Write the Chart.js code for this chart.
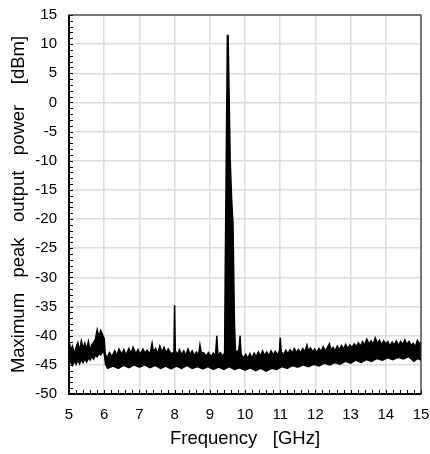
<!DOCTYPE html>
<html>
<head>
<meta charset="utf-8">
<script src="https://cdn.jsdelivr.net/npm/chart.js@4/dist/chart.umd.min.js"></script>
<style>
html,body{margin:0;padding:0;background:#fff}
#wrap{width:430px;height:454px}
</style>
</head>
<body>
<div id="wrap"><canvas id="myChart" width="430" height="454"></canvas></div>
<script>
var upperFreq = [5.00,5.05,5.10,5.15,5.20,5.25,5.30,5.35,5.40,5.45,5.50,5.55,5.60,5.65,5.70,5.75,5.80,5.85,5.90,5.95,6.00,
  6.03,6.08,6.15,6.22,6.30,6.36,6.42,6.50,6.56,6.62,6.70,6.76,6.82,6.90,6.96,7.02,7.10,7.16,7.22,7.30,7.36,7.40,7.46,7.52,
  7.58,7.64,7.70,7.76,7.82,7.90,7.98,8.00,8.02,8.08,8.14,8.20,8.26,8.32,8.38,8.44,8.50,8.56,8.62,8.68,8.72,8.76,8.82,8.90,
  8.96,9.04,9.10,9.16,9.20,9.23,9.30,9.36,9.42,9.44,9.50,9.52,9.58,9.62,9.66,9.70,9.73,9.78,9.83,9.86,9.89,9.95,
  10.02,10.08,10.14,10.20,10.26,10.32,10.38,10.44,10.50,10.56,10.62,10.68,10.74,10.80,10.86,10.92,10.98,11.00,11.03,
  11.10,11.16,11.22,11.28,11.34,11.40,11.46,11.52,11.58,11.64,11.70,11.76,11.80,11.86,11.92,11.98,12.04,12.10,12.16,
  12.22,12.28,12.34,12.40,12.44,12.50,12.56,12.62,12.68,12.74,12.80,12.86,12.92,12.98,13.04,13.10,13.16,13.22,13.28,
  13.34,13.40,13.46,13.52,13.58,13.64,13.70,13.76,13.82,13.88,13.94,14.00,14.06,14.12,14.18,14.24,14.30,14.36,14.42,
  14.48,14.54,14.60,14.66,14.72,14.78,14.84,14.90,14.96,15.00]
var upperDbm = [-40.7,-42.5,-41.8,-43.2,-42.0,-41.2,-42.6,-40.9,-42.2,-41.3,-42.4,-41.0,-42.6,-41.5,-41.2,-40.6,-39.0,-40.2,-39.1,-39.8,-40.5,
  -43.2,-43.8,-42.9,-43.6,-42.6,-43.4,-42.3,-43.2,-42.4,-43.3,-42.2,-43.0,-42.0,-43.1,-42.4,-43.2,-42.3,-43.0,-42.5,-43.2,-41.3,-42.8,-42.2,-43.1,
  -41.8,-42.9,-42.0,-43.0,-42.3,-43.1,-42.8,-34.8,-42.6,-43.2,-42.4,-43.3,-42.6,-43.4,-42.3,-43.2,-42.6,-43.4,-42.8,-43.3,-41.6,-43.0,-42.9,-43.5,
  -42.9,-43.6,-43.0,-43.5,-40.0,-43.3,-42.9,-43.5,-43.0,-28,11.5,11.5,-10,-16.5,-21,-38,-42.5,-43.0,-42.2,-40.0,-43.2,-43.8,
  -43.2,-43.9,-43.1,-43.8,-43.0,-43.6,-42.8,-43.5,-42.6,-43.4,-42.8,-43.5,-42.6,-43.3,-42.7,-43.3,-42.6,-40.3,-42.8,
  -43.2,-42.5,-43.1,-42.4,-43.0,-42.2,-42.9,-42.4,-43.0,-42.2,-42.8,-41.6,-42.6,-42.1,-42.8,-42.3,-42.9,-42.2,-42.7,
  -41.9,-42.6,-42.0,-41.4,-42.5,-42.0,-42.6,-41.8,-42.4,-41.7,-42.3,-41.5,-42.2,-41.6,-42.1,-41.4,-41.9,-41.2,-41.8,
  -41.0,-41.6,-40.6,-41.4,-40.9,-41.5,-40.4,-41.3,-40.8,-41.6,-40.9,-41.4,-41.0,-41.8,-41.1,-41.6,-40.9,-41.7,-41.0,
  -41.5,-40.7,-41.5,-41.0,-41.7,-41.3,-41.9,-40.8,-41.4,-41.0]
var lowerFreq = [5.00,5.05,5.10,5.15,5.20,5.25,5.30,5.35,5.40,5.45,5.50,5.55,5.60,5.65,5.70,5.75,5.80,5.85,5.90,5.95,6.00,
  6.04,6.10,6.25,6.40,6.55,6.70,6.85,7.00,7.15,7.30,7.45,7.60,7.75,7.90,8.05,8.20,8.35,8.50,8.65,8.80,8.95,9.10,9.25,
  9.40,9.55,9.70,9.85,10.00,10.15,10.30,10.45,10.60,10.75,10.90,11.05,11.20,11.35,11.50,11.65,11.80,11.95,12.10,12.25,
  12.40,12.55,12.70,12.85,13.00,13.15,13.30,13.45,13.60,13.75,13.90,14.05,14.20,14.35,14.50,14.65,14.80,14.90,15.00]
var lowerDbm = [-43.5,-44.6,-45.1,-44.3,-44.9,-44.2,-44.8,-44.1,-44.6,-43.9,-44.5,-43.8,-44.2,-43.6,-44.0,-43.4,-43.6,-43.0,-43.3,-42.8,-43.0,
  -45.0,-45.6,-45.2,-45.6,-45.1,-45.5,-45.0,-45.4,-45.0,-45.5,-45.1,-45.6,-45.2,-45.7,-45.2,-45.6,-45.1,-45.6,-45.3,-45.7,-45.3,-45.8,-45.4,
  -45.8,-45.3,-45.8,-45.5,-45.9,-45.5,-46.0,-45.6,-46.1,-45.6,-45.8,-45.3,-45.6,-45.1,-45.4,-45.0,-45.3,-44.9,-45.2,-44.7,
  -45.0,-44.6,-44.9,-44.4,-44.7,-44.2,-44.6,-44.1,-44.4,-43.9,-44.2,-43.8,-44.1,-43.7,-44.0,-43.6,-44.4,-43.9,-44.2]

var xTicks = [5,6,7,8,9,10,11,12,13,14,15]
var yTicks = [-50,-45,-40,-35,-30,-25,-20,-15,-10,-5,0,5,10,15]

function pts(xs, ys){
  var out = []
  for(var i=0;i<xs.length;i++){ out.push({x:xs[i], y:ys[i]}) }
  return out
}

// inward minor ticks + frame
var frame = {
  id:'frame',
  afterDatasetsDraw: function(chart){
    var c = chart.ctx, a = chart.chartArea
    var xs = chart.scales.x, ys = chart.scales.y
    c.save()
    c.strokeStyle = '#000'
    c.lineWidth = 1
    c.beginPath()
    for(var v=-50; v<=15; v++){
      var py = Math.round(ys.getPixelForValue(v)) + 0.5
      c.moveTo(a.left, py); c.lineTo(a.left+4, py)
    }
    for(var k=0; k<=50; k++){
      var px = Math.round(xs.getPixelForValue(5 + k*0.2)) + 0.5
      c.moveTo(px, a.bottom); c.lineTo(px, a.bottom-4)
    }
    c.stroke()
    c.lineWidth = 1.2
    c.strokeStyle = '#333'
    c.strokeRect(a.left, a.top, a.right-a.left, a.bottom-a.top)
    c.lineWidth = 2
    c.strokeStyle = '#000'
    c.beginPath()
    c.moveTo(a.left, a.top); c.lineTo(a.left, a.bottom); c.lineTo(a.right, a.bottom)
    c.stroke()
    c.restore()
  }
}

Chart.defaults.font.family = '"Liberation Sans", Arial, sans-serif'
Chart.defaults.color = '#000'

new Chart("myChart", {
  type: "line",
  data: {
    datasets: [{
      data: pts(lowerFreq, lowerDbm),
      borderColor: '#000',
      borderWidth: 1.5,
      fill: false
    },{
      data: pts(upperFreq, upperDbm),
      borderColor: '#000',
      borderWidth: 1.5,
      backgroundColor: '#000',
      fill: '-1'
    }]
  },
  options: {
    responsive: false,
    animation: false,
    layout: { autoPadding: false, padding: { left: 0, right: 9, top: 15, bottom: 0 } },
    elements: { point: { radius: 0 }, line: { tension: 0 } },
    plugins: { legend: { display: false }, tooltip: { enabled: false } },
    scales: {
      x: {
        type: 'linear', min: 5, max: 15,
        afterBuildTicks: function(s){ s.ticks = xTicks.map(function(v){ return {value:v} }) },
        afterFit: function(s){ s.height = 60; s.paddingLeft = 0; s.paddingRight = 0 },
        grid: { color: '#dcdcdc', lineWidth: 1.5, drawTicks: false },
        border: { display: false },
        ticks: { padding: 12, font: { size: 15 } },
        title: { display: true, text: 'Frequency   [GHz]', font: { size: 18.5 }, padding: { top: 2 } }
      },
      y: {
        type: 'linear', min: -50, max: 15,
        afterBuildTicks: function(s){ s.ticks = yTicks.map(function(v){ return {value:v} }) },
        afterFit: function(s){ s.width = 69; s.paddingTop = 0; s.paddingBottom = 0 },
        grid: { color: '#dcdcdc', lineWidth: 1.5, drawTicks: false },
        border: { display: false },
        ticks: { padding: 12, font: { size: 15 } },
        title: { display: true, text: 'Maximum   peak   output   power    [dBm]', font: { size: 18.5 }, padding: { bottom: 0, top: 8 } }
      }
    }
  },
  plugins: [frame]
})
</script>
</body>
</html>
